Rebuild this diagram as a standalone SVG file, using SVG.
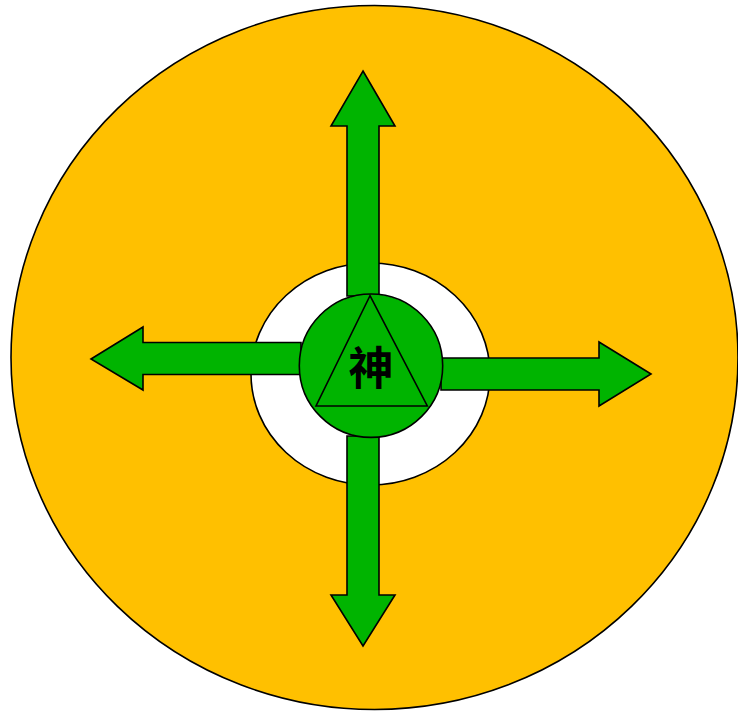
<svg xmlns="http://www.w3.org/2000/svg" width="738" height="711" viewBox="0 0 738 711">
  <style>
    .ln { stroke: #000; stroke-width: 1.6; stroke-linejoin: miter; }
    .gr { fill: #00B400; }
    .lbl { font-family: "Noto Sans CJK SC", "Noto Sans CJK JP", sans-serif; font-size: 45px; font-weight: bold; fill: #000; }
  </style>
  <rect width="738" height="711" fill="#fff"/>
  <g id="outer">
    <ellipse cx="374.5" cy="357.5" rx="363.5" ry="352" fill="#FFC000" class="ln"/>
  </g>
  <g id="ring">
    <ellipse cx="370.5" cy="374" rx="119.5" ry="111" fill="#fff" class="ln"/>
  </g>
  <g id="connectors">
    <polygon id="arrow-up" class="gr ln" points="363,71 395,126 379,126 379,296 347,296 347,126 331,126"/>
    <polygon id="arrow-down" class="gr ln" points="363,646 395,595 379,595 379,436 347,436 347,595 331,595"/>
    <polygon id="arrow-left" class="gr ln" points="91,359 143,327 143,342.5 301,342.5 301,374.5 143,374.5 143,390"/>
    <polygon id="arrow-right" class="gr ln" points="651,374 599,342 599,358 441,358 441,390 599,390 599,406"/>
  </g>
  <g id="center">
    <circle cx="371" cy="365.7" r="71.7" class="gr ln"/>
    <polygon points="370,295.7 427.3,406 316,406" fill="none" class="ln"/>
    <text class="lbl" x="371" y="384.5" text-anchor="middle">神</text>
  </g>
</svg>
